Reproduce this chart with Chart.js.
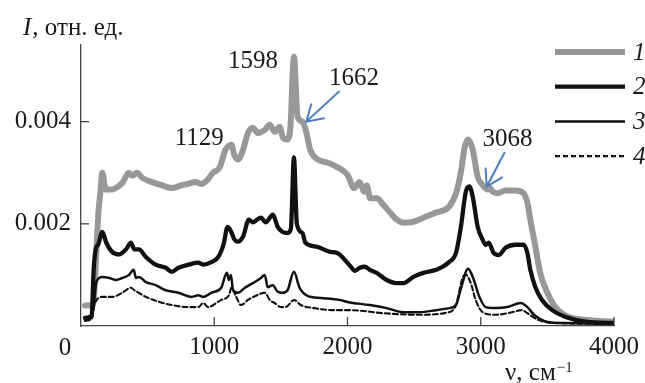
<!DOCTYPE html>
<html><head><meta charset="utf-8">
<script src="https://cdn.jsdelivr.net/npm/chart.js@4.4.0/dist/chart.umd.min.js"></script>
<style>html,body{margin:0;padding:0;background:#fff}#wrap{width:645px;height:383px;position:relative}</style>
</head><body><div id="wrap"><canvas id="c"></canvas></div>
<script>
// ---- data ----
const seriesLabels = ['1', '2', '3', '4'];

const nu1 = [30, 90, 105, 118, 130, 145, 160, 185, 220, 260, 310, 360, 385, 420, 460, 530, 600, 680, 750, 800, 860, 900, 950, 990, 1040, 1085, 1129, 1150, 1180, 1216, 1253, 1290, 1327, 1379, 1416, 1454, 1491, 1513, 1545, 1570, 1598, 1625, 1662, 1690, 1720, 1775, 1850, 1930, 2000, 2050, 2090, 2125, 2145, 2170, 2220, 2270, 2320, 2370, 2420, 2495, 2570, 2665, 2760, 2815, 2850, 2880, 2905, 2940, 2977, 3014, 3052, 3068, 3090, 3126, 3186, 3260, 3320, 3350, 3372, 3410, 3446, 3500, 3560, 3655, 3800, 4000];
const I1 = [0.0004, 0.00042, 0.0009, 0.0016, 0.0022, 0.0026, 0.003, 0.00267, 0.00267, 0.0027, 0.0028, 0.003, 0.00294, 0.003, 0.0029, 0.00282, 0.00276, 0.0027, 0.00275, 0.00278, 0.00282, 0.00278, 0.00286, 0.003, 0.0031, 0.00345, 0.00355, 0.00335, 0.00326, 0.00345, 0.00378, 0.00388, 0.00378, 0.00384, 0.00394, 0.0038, 0.0039, 0.0037, 0.00365, 0.00384, 0.00527, 0.0041, 0.004, 0.0038, 0.00345, 0.00326, 0.0032, 0.0031, 0.00296, 0.0027, 0.00282, 0.00263, 0.00275, 0.0025, 0.0025, 0.00237, 0.00222, 0.00208, 0.00202, 0.00204, 0.00212, 0.00222, 0.00233, 0.0026, 0.003, 0.0035, 0.00365, 0.00345, 0.00292, 0.00276, 0.00267, 0.0027, 0.00263, 0.0026, 0.00265, 0.00265, 0.0026, 0.00241, 0.00208, 0.00155, 0.00104, 0.00065, 0.00037, 0.00018, 0.00012, 0.00008];

const nu2 = [30, 80, 95, 110, 130, 160, 190, 234, 286, 338, 375, 400, 435, 487, 560, 636, 680, 732, 807, 880, 918, 978, 1030, 1070, 1100, 1126, 1150, 1178, 1216, 1260, 1290, 1350, 1387, 1440, 1476, 1513, 1550, 1575, 1598, 1620, 1662, 1684, 1773, 1870, 1922, 2019, 2056, 2093, 2130, 2167, 2219, 2294, 2368, 2420, 2494, 2569, 2665, 2762, 2814, 2851, 2888, 2915, 2940, 2977, 3014, 3037, 3060, 3096, 3134, 3186, 3260, 3320, 3350, 3372, 3410, 3460, 3536, 3632, 3800, 4000];
const I2 = [0.00016, 0.0002, 0.0011, 0.0015, 0.0016, 0.00184, 0.00163, 0.00145, 0.0014, 0.0015, 0.00163, 0.0015, 0.0015, 0.00135, 0.0012, 0.00114, 0.00106, 0.00114, 0.0012, 0.00124, 0.0012, 0.00125, 0.00135, 0.0016, 0.00194, 0.00185, 0.0017, 0.00165, 0.00175, 0.00208, 0.00203, 0.00212, 0.00203, 0.00218, 0.00194, 0.00184, 0.00182, 0.0019, 0.0033, 0.002, 0.00182, 0.00163, 0.00155, 0.00145, 0.00143, 0.00118, 0.00108, 0.00114, 0.00116, 0.0011, 0.00104, 0.0009, 0.00084, 0.00084, 0.00096, 0.00104, 0.0011, 0.00125, 0.00143, 0.00194, 0.00263, 0.00273, 0.00253, 0.00194, 0.00169, 0.00159, 0.00163, 0.00143, 0.00139, 0.00153, 0.00159, 0.00159, 0.00143, 0.0011, 0.00076, 0.00051, 0.00031, 0.00018, 0.00008, 0.00006];

const nu3 = [30, 80, 100, 115, 160, 212, 264, 309, 360, 395, 413, 435, 487, 561, 636, 732, 829, 881, 918, 978, 1052, 1095, 1110, 1125, 1141, 1178, 1230, 1305, 1350, 1379, 1401, 1439, 1476, 1513, 1550, 1598, 1640, 1700, 1800, 1944, 2000, 2167, 2294, 2420, 2540, 2665, 2762, 2814, 2851, 2905, 2940, 2990, 3037, 3110, 3200, 3300, 3350, 3400, 3500, 3632, 4000];
const I3 = [0.00012, 0.00016, 0.0005, 0.00086, 0.00096, 0.00094, 0.0009, 0.00094, 0.001, 0.0011, 0.00094, 0.00096, 0.00086, 0.0008, 0.0007, 0.00065, 0.00057, 0.0006, 0.00057, 0.00065, 0.00075, 0.00104, 0.0009, 0.001, 0.0007, 0.00065, 0.00075, 0.00086, 0.00094, 0.001, 0.00076, 0.0008, 0.00067, 0.00065, 0.0007, 0.00106, 0.00075, 0.00059, 0.00055, 0.00051, 0.00047, 0.00041, 0.00035, 0.00027, 0.00027, 0.00031, 0.00035, 0.00041, 0.00073, 0.00112, 0.00096, 0.00057, 0.00037, 0.00035, 0.00037, 0.00045, 0.00037, 0.00022, 0.00008, 0.00006, 0.00004];

const nu4 = [30, 80, 100, 115, 160, 234, 309, 375, 400, 420, 487, 590, 680, 807, 881, 918, 955, 1015, 1052, 1110, 1129, 1165, 1200, 1253, 1327, 1379, 1420, 1454, 1500, 1535, 1600, 1650, 1750, 1900, 2019, 2271, 2516, 2762, 2814, 2866, 2888, 2925, 2962, 3014, 3110, 3205, 3310, 3350, 3430, 3550, 4000];
const I4 = [0.0001, 0.00014, 0.0004, 0.0005, 0.00057, 0.00057, 0.00065, 0.00075, 0.0007, 0.00067, 0.00057, 0.00047, 0.00041, 0.00037, 0.00037, 0.00045, 0.00037, 0.00045, 0.00051, 0.0006, 0.00075, 0.00057, 0.00041, 0.00051, 0.00061, 0.00065, 0.0005, 0.00045, 0.00037, 0.00037, 0.00051, 0.00041, 0.00035, 0.00031, 0.00031, 0.00025, 0.00022, 0.00027, 0.00041, 0.00096, 0.001, 0.00084, 0.00051, 0.00027, 0.00022, 0.00025, 0.00031, 0.00025, 0.00012, 0.00006, 0.00004];

const xTickValues = [1000, 2000, 3000, 4000];
const yTickValues = [0.002, 0.004];

// peak annotations (text + anchor in data units)
const peakText = ['1598', '1129', '1662', '3068'];
const peakNu   = [1290, 888, 2048, 3200];
const peakI    = [0.0052, 0.00369, 0.00486, 0.00367];
// arrows (tail -> tip, data units)
const arrowTailNu = [1937, 3178];
const arrowTailI  = [0.00459, 0.00339];
const arrowTipNu  = [1691, 3045];
const arrowTipI   = [0.0040, 0.00273];

// ---- styles ----
const SERIF = '"Liberation Serif", "Times New Roman", serif';
const TEXT = '#1a1a1a';
const AXIS = '#444';
const GRAY = '#98989a';
const BLUE = '#4a7fc0';

const pts = (xs, ys) => xs.map((v, i) => ({x: v, y: ys[i]}));

const decor = {
  id: 'decor',
  afterDraw(chart) {
    const {ctx, chartArea: a} = chart;
    const x = chart.scales.x, y = chart.scales.y;
    ctx.save();
    // inward tick marks
    ctx.strokeStyle = AXIS; ctx.lineWidth = 1.3;
    yTickValues.forEach(v => {
      const py = y.getPixelForValue(v);
      ctx.beginPath(); ctx.moveTo(a.left, py); ctx.lineTo(a.left + 8, py); ctx.stroke();
    });
    xTickValues.forEach(v => {
      const px = x.getPixelForValue(v);
      ctx.beginPath(); ctx.moveTo(px, a.bottom); ctx.lineTo(px, a.bottom - 9); ctx.stroke();
    });
    // origin label
    ctx.fillStyle = TEXT;
    ctx.font = `25px ${SERIF}`;
    ctx.textAlign = 'center'; ctx.textBaseline = 'middle';
    ctx.fillText('0', x.getPixelForValue(0) - 16, a.bottom + 22);
    // peak labels
    peakText.forEach((t, i) => {
      ctx.fillText(t, x.getPixelForValue(peakNu[i]), y.getPixelForValue(peakI[i]) + 1);
    });
    // arrows
    ctx.strokeStyle = BLUE; ctx.lineWidth = 2; ctx.lineCap = 'round';
    arrowTailNu.forEach((_, i) => {
      const x0 = x.getPixelForValue(arrowTailNu[i]), y0 = y.getPixelForValue(arrowTailI[i]);
      const x1 = x.getPixelForValue(arrowTipNu[i]), y1 = y.getPixelForValue(arrowTipI[i]);
      const ang = Math.atan2(y0 - y1, x0 - x1);
      const L = 18, h = 0.55;
      ctx.beginPath();
      ctx.moveTo(x0, y0); ctx.lineTo(x1, y1);
      ctx.moveTo(x1 + L * Math.cos(ang - h), y1 + L * Math.sin(ang - h));
      ctx.lineTo(x1, y1);
      ctx.lineTo(x1 + L * Math.cos(ang + h), y1 + L * Math.sin(ang + h));
      ctx.stroke();
    });
    // legend
    ctx.lineCap = 'butt';
    chart.data.datasets.forEach((ds, i) => {
      const ly = 52 + i * 34.7;
      ctx.strokeStyle = ds.borderColor; ctx.lineWidth = ds.borderWidth;
      ctx.setLineDash(ds.borderDash || []);
      ctx.beginPath(); ctx.moveTo(555, ly); ctx.lineTo(625, ly); ctx.stroke();
      ctx.setLineDash([]);
      ctx.fillStyle = TEXT; ctx.font = `italic 25px ${SERIF}`;
      ctx.textAlign = 'left'; ctx.textBaseline = 'middle';
      ctx.fillText(ds.label, 633, ly + 1);
    });
    // y axis title
    ctx.textBaseline = 'alphabetic'; ctx.textAlign = 'left';
    ctx.font = `italic 25px ${SERIF}`;
    ctx.fillText('I', 23, 35);
    let w = ctx.measureText('I').width;
    ctx.font = `25px ${SERIF}`;
    ctx.fillText(', отн. ед.', 23 + w + 1, 35);
    // x axis title
    ctx.font = `25px ${SERIF}`;
    ctx.fillText('ν, см', 505, 380);
    w = ctx.measureText('ν, см').width;
    ctx.font = `15px ${SERIF}`;
    ctx.fillText('−1', 505 + w + 1, 372);
    ctx.restore();
  }
};

new Chart(document.getElementById('c'), {
  type: 'line',
  data: {
    datasets: [
      {label: seriesLabels[0], data: pts(nu1, I1), borderColor: GRAY, borderWidth: 6, order: 4},
      {label: seriesLabels[1], data: pts(nu2, I2), borderColor: '#111', borderWidth: 4.3, order: 3},
      {label: seriesLabels[2], data: pts(nu3, I3), borderColor: '#111', borderWidth: 2.5, order: 2},
      {label: seriesLabels[3], data: pts(nu4, I4), borderColor: '#111', borderWidth: 2.1, borderDash: [5, 3], order: 1}
    ]
  },
  options: {
    responsive: true, maintainAspectRatio: false, animation: false, devicePixelRatio: 1,
    elements: {point: {radius: 0}, line: {cubicInterpolationMode: 'monotone', borderJoinStyle: 'round', borderCapStyle: 'round', fill: false}},
    layout: {padding: {left: 0, right: 25, top: 45, bottom: 0}},
    plugins: {legend: {display: false}, tooltip: {enabled: false}},
    scales: {
      x: {
        type: 'linear', min: 0, max: 4000,
        afterBuildTicks: s => { s.ticks = xTickValues.map(v => ({value: v})); },
        afterFit: s => { s.height = 57; },
        grid: {display: true, drawOnChartArea: false, drawTicks: false},
        border: {display: true, color: AXIS, width: 1.3},
        ticks: {font: {family: SERIF, size: 25}, color: TEXT, padding: 6, maxRotation: 0, autoSkip: false, callback: v => String(v)}
      },
      y: {
        type: 'linear', min: 0, max: 0.0055,
        afterBuildTicks: s => { s.ticks = yTickValues.map(v => ({value: v})); },
        afterFit: s => { s.width = 81; },
        grid: {display: true, drawOnChartArea: false, drawTicks: false},
        border: {display: true, color: AXIS, width: 1.3},
        ticks: {font: {family: SERIF, size: 25}, color: TEXT, padding: 10, callback: v => v.toFixed(3)}
      }
    }
  },
  plugins: [decor]
});
</script></body></html>
